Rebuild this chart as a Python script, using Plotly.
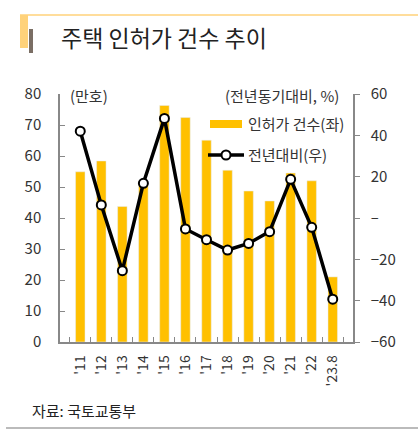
import plotly.graph_objects as go

years = ["'11", "'12", "'13", "'14", "'15", "'16", "'17", "'18", "'19", "'20", "'21", "'22", "'23.8"]
permits = [54.9, 58.4, 43.7, 50.8, 76.3, 72.4, 65.1, 55.4, 48.7, 45.5, 54.5, 52.0, 21.0]
yoy = [42.0, 6.3, -25.5, 16.8, 48.2, -5.3, -10.5, -15.5, -12.3, -6.6, 18.7, -4.5, -39.3]

W, H = 418, 443
L, R, T, B = 60, 353, 94, 342
font = "Noto Sans CJK KR"

def px(x):
    return (x - L) / (R - L)

def py(y):
    return (B - y) / (B - T)

fig = go.Figure()
fig.add_trace(go.Bar(x=years, y=permits, name="인허가 건수(좌)", marker_color="#FFC000",
                     width=0.45, yaxis="y", showlegend=False))
fig.add_trace(go.Scatter(x=years, y=yoy, name="전년대비(우)", yaxis="y2", mode="lines+markers",
                         line=dict(color="black", width=3.5), showlegend=False,
                         marker=dict(size=9, color="white", line=dict(color="black", width=2))))

fig.update_layout(
    width=W, height=H,
    margin=dict(l=L, r=W - R, t=T, b=H - B, autoexpand=False),
    paper_bgcolor="white", plot_bgcolor="white",
    font=dict(family=font, size=14, color="#333"),
    showlegend=False,
    xaxis=dict(type="category", showline=True, linecolor="#888", linewidth=1.5,
               ticks="inside", tickson="boundaries", ticklen=5, tickcolor="#888",
               tickangle=-90, tickfont=dict(size=14, color="#333"), showgrid=False,
               ticklabelstandoff=6, automargin=False),
    yaxis=dict(range=[0, 80], dtick=10, showline=True, linecolor="#888", linewidth=1.5,
               ticks="inside", ticklen=5, tickcolor="#888", showgrid=False, zeroline=False,
               tickfont=dict(size=15, color="#333"), ticklabelstandoff=14, automargin=False),
    yaxis2=dict(range=[-60, 60], dtick=20, overlaying="y", side="right", showline=True,
                linecolor="#888", linewidth=1.5, ticks="outside", ticklen=5, tickcolor="#888",
                showgrid=False, zeroline=False, tickfont=dict(size=15, color="#333"),
                tickvals=[-60, -40, -20, 0, 20, 40, 60], automargin=False,
                ticklabelstandoff=8,
                ticktext=["−60", "−40", "−20", "–", "20", "40", "60"]),
)

# custom legend
fig.add_shape(type="rect", xref="paper", yref="paper", x0=px(210), x1=px(242), y0=py(120), y1=py(128),
              fillcolor="#FFC000", line=dict(width=0))
fig.add_annotation(text="인허가 건수(좌)", xref="paper", yref="paper", x=px(246), y=py(123),
                   xanchor="left", yanchor="middle", showarrow=False, font=dict(size=15))
fig.add_shape(type="line", xref="paper", yref="paper", x0=px(208), x1=px(244), y0=py(155), y1=py(155),
              line=dict(color="black", width=3.5))
fig.add_shape(type="circle", xref="paper", yref="paper", x0=px(221.5), x1=px(230.5), y0=py(150.5),
              y1=py(159.5), fillcolor="white", line=dict(color="black", width=2))
fig.add_annotation(text="전년대비(우)", xref="paper", yref="paper", x=px(246), y=py(154),
                   xanchor="left", yanchor="middle", showarrow=False, font=dict(size=15))

# title block decoration
fig.add_shape(type="line", xref="paper", yref="paper", x0=px(20), x1=px(418), y0=py(15), y1=py(15),
              line=dict(color="#FFD27A", width=1.5))
fig.add_shape(type="rect", xref="paper", yref="paper", x0=px(20), x1=px(28), y0=py(15), y1=py(48),
              fillcolor="#FFD27A", line=dict(width=0))
fig.add_shape(type="rect", xref="paper", yref="paper", x0=px(29), x1=px(33), y0=py(29), y1=py(53),
              fillcolor="#7A6E64", line=dict(width=0))
fig.add_annotation(text="주택 인허가 건수 추이", xref="paper", yref="paper", x=px(59), y=py(37),
                   xanchor="left", yanchor="middle", showarrow=False,
                   font=dict(size=23, color="#222", family=font))

# unit labels
fig.add_annotation(text="(만호)", xref="paper", yref="paper", x=px(68), y=py(95),
                   xanchor="left", yanchor="middle", showarrow=False, font=dict(size=15))
fig.add_annotation(text="(전년동기대비, %)", xref="paper", yref="paper", x=px(341), y=py(95),
                   xanchor="right", yanchor="middle", showarrow=False, font=dict(size=15))

# source + bottom rule
fig.add_annotation(text="자료: 국토교통부", xref="paper", yref="paper", x=px(30), y=py(410),
                   xanchor="left", yanchor="middle", showarrow=False, font=dict(size=15, color="#222"))
fig.add_shape(type="line", xref="paper", yref="paper", x0=px(6), x1=px(418), y0=py(428), y1=py(428),
              line=dict(color="#BBBBBB", width=2))

fig.write_html("out.html", config={"displayModeBar": False},
               post_script="document.body.style.margin='0';")
